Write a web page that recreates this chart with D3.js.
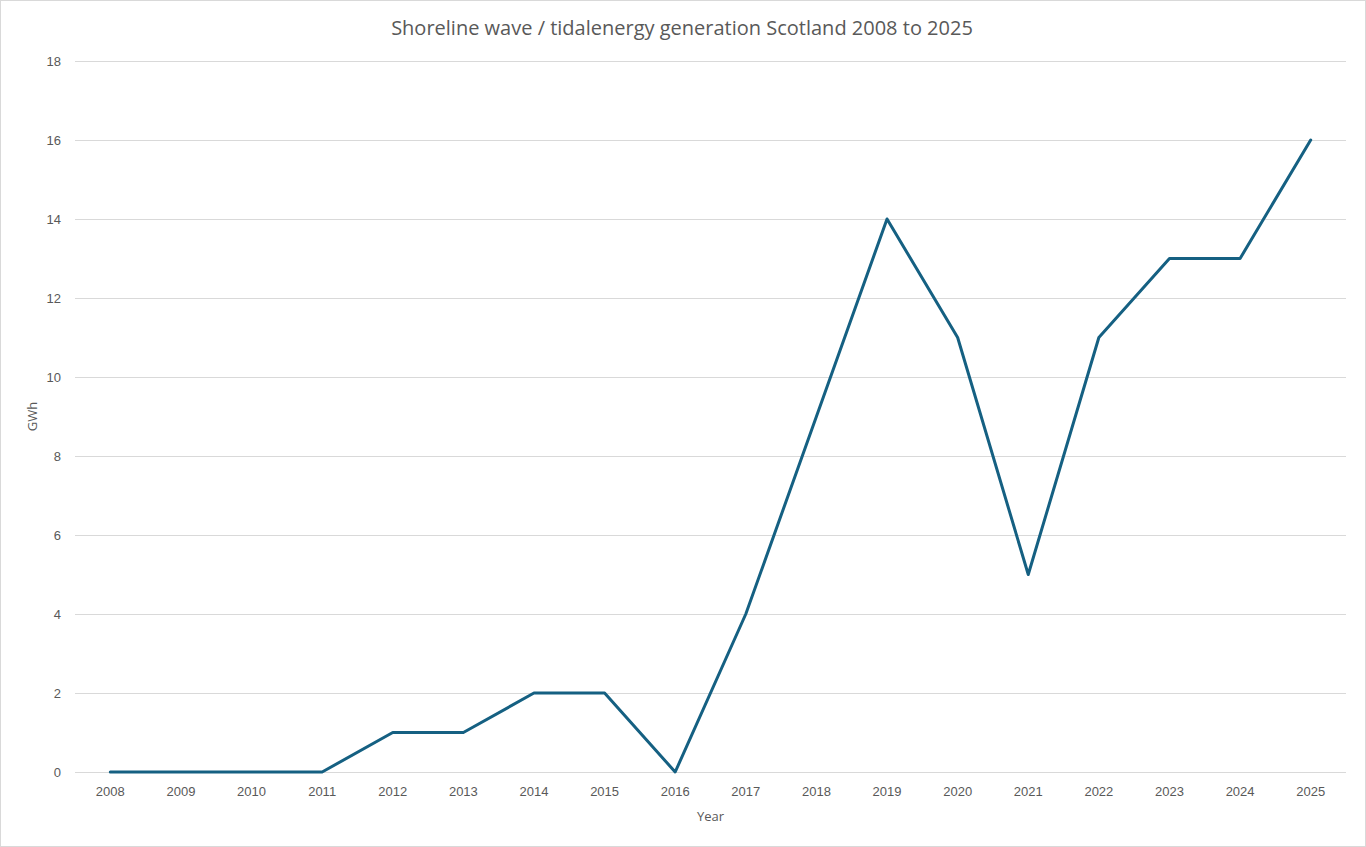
<!DOCTYPE html>
<html lang="en">
<head>
  <meta charset="UTF-8">
  <title>Shoreline wave / tidal energy generation Scotland</title>
  <script src="https://d3js.org/d3.v7.min.js"></script>
  <style>
    body {
      margin: 0;
      overflow: hidden;
      background: #fff;
      font-family: "Open Sans", "Liberation Sans", sans-serif;
    }
    .grid line { stroke: #d9d9d9; stroke-width: 1; }
    .tick text { fill: #595959; font-size: 13px; }
    .series { fill: none; stroke: #156082; stroke-width: 3; stroke-linejoin: round; stroke-linecap: round; }
  </style>
</head>
<body>
  <svg id="chart"></svg>

  <script>
    const years = ["2008", "2009", "2010", "2011", "2012", "2013", "2014", "2015", "2016",
                   "2017", "2018", "2019", "2020", "2021", "2022", "2023", "2024", "2025"];
    const gwh = [0, 0, 0, 0, 1, 1, 2, 2, 0, 4, 9, 14, 11, 5, 11, 13, 13, 16];
    const yTicks = [0, 2, 4, 6, 8, 10, 12, 14, 16, 18];

    const width = 1366, height = 847;
    const margin = {top: 61, right: 20, bottom: 75, left: 75};

    const svg = d3.select("#chart")
      .attr("width", width)
      .attr("height", height);

    // chart border
    svg.append("rect")
      .attr("x", 0.5).attr("y", 0.5)
      .attr("width", width - 1).attr("height", height - 1)
      .attr("fill", "#fff")
      .attr("stroke", "#d9d9d9");

    const x = d3.scaleBand()
      .domain(years)
      .range([margin.left, width - margin.right]);

    const y = d3.scaleLinear()
      .domain([0, 18])
      .range([height - margin.bottom, margin.top]);

    // horizontal gridlines
    svg.append("g")
      .attr("class", "grid")
      .selectAll("line")
      .data(yTicks)
      .enter().append("line")
      .attr("x1", margin.left)
      .attr("x2", width - margin.right)
      .attr("y1", d => Math.round(y(d)) + 0.5)
      .attr("y2", d => Math.round(y(d)) + 0.5);

    // y axis labels
    const yAxis = svg.append("g")
      .attr("transform", `translate(${margin.left},0)`)
      .call(d3.axisLeft(y).tickValues(yTicks).tickSize(0).tickPadding(14));
    yAxis.select(".domain").remove();
    yAxis.selectAll(".tick text").attr("font-family", null).attr("font-size", null);

    // x axis labels
    const xAxis = svg.append("g")
      .attr("transform", `translate(0,${height - margin.bottom})`)
      .call(d3.axisBottom(x).tickSize(0).tickPadding(15));
    xAxis.select(".domain").remove();
    xAxis.selectAll(".tick text").attr("font-family", null).attr("font-size", null);

    // series line
    const line = d3.line()
      .x((d, i) => x(years[i]) + x.bandwidth() / 2)
      .y(d => y(d));

    svg.append("path")
      .datum(gwh)
      .attr("class", "series")
      .attr("d", line);

    // title
    svg.append("text")
      .attr("x", width / 2 - 1)
      .attr("y", 35)
      .attr("text-anchor", "middle")
      .attr("fill", "#595959")
      .attr("font-size", 20)
      .text("Shoreline wave / tidalenergy generation Scotland 2008 to 2025");

    // axis titles
    svg.append("text")
      .attr("x", (margin.left + width - margin.right) / 2)
      .attr("y", 821)
      .attr("text-anchor", "middle")
      .attr("fill", "#595959")
      .attr("font-size", 13)
      .text("Year");

    svg.append("text")
      .attr("transform", `translate(37,${(margin.top + height - margin.bottom) / 2}) rotate(-90)`)
      .attr("text-anchor", "middle")
      .attr("fill", "#595959")
      .attr("font-size", 13)
      .text("GWh");
  </script>
</body>
</html>
